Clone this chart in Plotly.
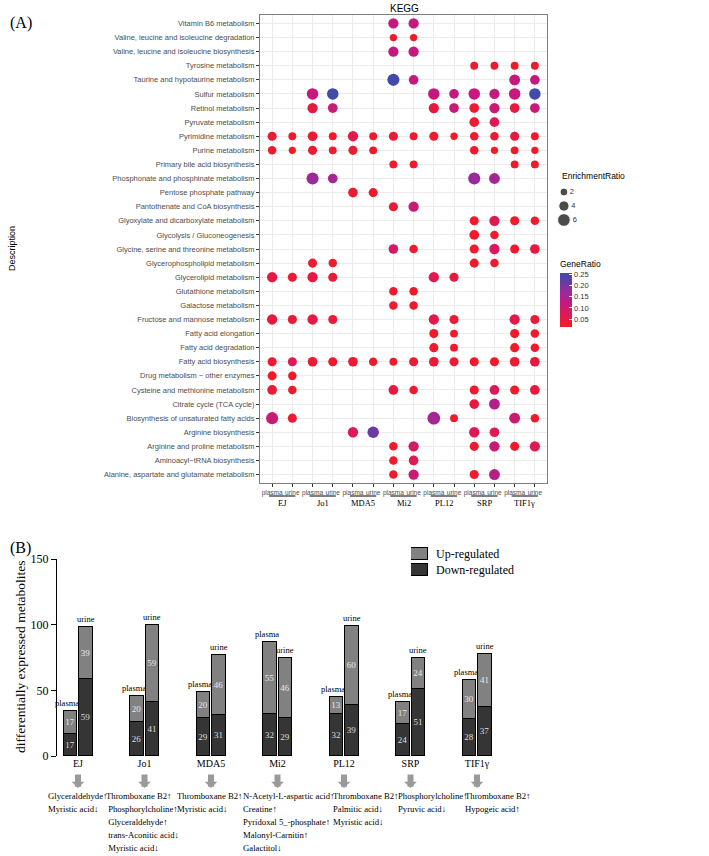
import plotly.graph_objects as go

# ---------------- Panel A data ----------------
pathways = [
    "Vitamin B6 metabolism",
    "Valine, leucine and isoleucine degradation",
    "Valine, leucine and isoleucine biosynthesis",
    "Tyrosine metabolism",
    "Taurine and hypotaurine metabolism",
    "Sulfur metabolism",
    "Retinol metabolism",
    "Pyruvate metabolism",
    "Pyrimidine metabolism",
    "Purine metabolism",
    "Primary bile acid biosynthesis",
    "Phosphonate and phosphinate metabolism",
    "Pentose phosphate pathway",
    "Pantothenate and CoA biosynthesis",
    "Glyoxylate and dicarboxylate metabolism",
    "Glycolysis / Gluconeogenesis",
    "Glycine, serine and threonine metabolism",
    "Glycerophospholipid metabolism",
    "Glycerolipid metabolism",
    "Glutathione metabolism",
    "Galactose metabolism",
    "Fructose and mannose metabolism",
    "Fatty acid elongation",
    "Fatty acid degradation",
    "Fatty acid biosynthesis",
    "Drug metabolism \u2212 other enzymes",
    "Cysteine and methionine metabolism",
    "Citrate cycle (TCA cycle)",
    "Biosynthesis of unsaturated fatty acids",
    "Arginine biosynthesis",
    "Arginine and proline metabolism",
    "Aminoacyl\u2212tRNA biosynthesis",
    "Alanine, aspartate and glutamate metabolism",
]
groups = ["EJ", "Jo1", "MDA5", "Mi2", "PL12", "SRP", "TIF1\u03b3"]
samples = ["plasma", "urine"]
columns = [f"{g} {s}" for g in groups for s in samples]

N = None
# columns: EJp EJu Jo1p Jo1u MDA5p MDA5u Mi2p Mi2u PL12p PL12u SRPp SRPu TIFp TIFu
enrichment_ratio = [
    [N, N, N, N, N, N, 4, 4, N, N, N, N, N, N],
    [N, N, N, N, N, N, 1.5, 1.5, N, N, N, N, N, N],
    [N, N, N, N, N, N, 4, 4, N, N, N, N, N, N],
    [N, N, N, N, N, N, N, N, N, N, 2, 2, 2, 2],
    [N, N, N, N, N, N, 5.5, 3.5, N, N, N, N, 4.5, 3.5],
    [N, N, 5, 5, N, N, N, N, 5, 3.5, 5, 4, 5, 5],
    [N, N, 4, 3.5, N, N, N, N, 4, 3.5, 3.5, 4, 3.5, 3.5],
    [N, N, N, N, N, N, N, N, N, N, 3.5, 3.5, N, N],
    [3, 2, 3.5, 2, 4, 2, 3, 2, 3, 1.5, 2.5, 2.5, 3, 2],
    [2.5, 1.5, 3, 2, 3, 2, N, N, N, N, 2.5, 1.5, 2, 1.5],
    [N, N, N, N, N, N, 2, 2, N, N, N, N, 2, 2],
    [N, N, 5.5, 3.5, N, N, N, N, N, N, 5.5, 4.5, N, N],
    [N, N, N, N, 3.5, 3, N, N, N, N, N, N, N, N],
    [N, N, N, N, N, N, 3, 4, N, N, N, N, N, N],
    [N, N, N, N, N, N, N, N, N, N, 3, 4, 3, 2.5],
    [N, N, N, N, N, N, N, N, N, N, 3.5, 2.5, N, N],
    [N, N, N, N, N, N, 3.5, 2.5, N, N, 3, 4, 3, 3.5],
    [N, N, 3, 2.5, N, N, N, N, N, N, 3, 2.5, N, N],
    [4, 3, 4, 3, N, N, N, N, 4, 3, N, N, N, N],
    [N, N, N, N, N, N, 2.5, 2.5, N, N, N, N, N, N],
    [N, N, N, N, N, N, 2.5, 2.5, N, N, N, N, N, N],
    [4, 3, 4, 3, N, N, N, N, 4, 3, N, N, 4, 3],
    [N, N, N, N, N, N, N, N, 3, 2, N, N, 3, 2.5],
    [N, N, N, N, N, N, N, N, 3, 2, N, N, 3, 2.5],
    [3, 3, 3.5, 3, 3.5, 2.5, 2, 3, 3.5, 3, 3, 3, 3.5, 3.5],
    [3, 2.5, N, N, N, N, N, N, N, N, N, N, N, N],
    [3.5, 2.5, N, N, N, N, 3.5, 2.5, N, N, 3, 3.5, 3, 3.5],
    [N, N, N, N, N, N, N, N, N, N, 3.5, 4.5, N, N],
    [5.5, 3, N, N, N, N, N, N, 6, 2, N, N, 4.5, 2.5],
    [N, N, N, N, 4, 5, N, N, N, N, 4, 3.5, N, N],
    [N, N, N, N, N, N, 2.5, 4, N, N, 3, 4, 3, 4],
    [N, N, N, N, N, N, 2.5, 3.5, N, N, N, N, N, N],
    [N, N, N, N, N, N, 2.5, 4, N, N, 3, 4.5, N, N],
]
gene_ratio = [
    [N, N, N, N, N, N, .12, .12, N, N, N, N, N, N],
    [N, N, N, N, N, N, .03, .03, N, N, N, N, N, N],
    [N, N, N, N, N, N, .12, .12, N, N, N, N, N, N],
    [N, N, N, N, N, N, N, N, N, N, .03, .03, .03, .03],
    [N, N, N, N, N, N, .25, .12, N, N, N, N, .12, .12],
    [N, N, .12, .25, N, N, N, N, .12, .12, .12, .12, .12, .25],
    [N, N, .05, .11, N, N, N, N, .05, .11, .04, .11, .05, .11],
    [N, N, N, N, N, N, N, N, N, N, .04, .07, N, N],
    [.04, .03, .04, .03, .06, .03, .04, .03, .03, .02, .03, .04, .05, .03],
    [.03, .02, .04, .03, .04, .03, N, N, N, N, .03, .02, .03, .02],
    [N, N, N, N, N, N, .03, .03, N, N, N, N, .03, .03],
    [N, N, .17, .16, N, N, N, N, N, N, .17, .16, N, N],
    [N, N, N, N, .04, .03, N, N, N, N, N, N, N, N],
    [N, N, N, N, N, N, .04, .11, N, N, N, N, N, N],
    [N, N, N, N, N, N, N, N, N, N, .03, .07, .03, .03],
    [N, N, N, N, N, N, N, N, N, N, .03, .03, N, N],
    [N, N, N, N, N, N, .09, .03, N, N, .03, .08, .03, .05],
    [N, N, .03, .03, N, N, N, N, N, N, .03, .03, N, N],
    [.05, .04, .05, .04, N, N, N, N, .06, .05, N, N, N, N],
    [N, N, N, N, N, N, .03, .03, N, N, N, N, N, N],
    [N, N, N, N, N, N, .03, .03, N, N, N, N, N, N],
    [.05, .04, .05, .04, N, N, N, N, .06, .04, N, N, .06, .04],
    [N, N, N, N, N, N, N, N, .03, .03, N, N, .03, .03],
    [N, N, N, N, N, N, N, N, .03, .03, N, N, .03, .03],
    [.04, .07, .04, .03, .04, .03, .03, .04, .04, .04, .03, .03, .04, .05],
    [.03, .03, N, N, N, N, N, N, N, N, N, N, N, N],
    [.04, .03, N, N, N, N, .05, .03, N, N, .03, .08, .03, .05],
    [N, N, N, N, N, N, N, N, N, N, .05, .14, N, N],
    [.11, .04, N, N, N, N, N, N, .16, .03, N, N, .10, .03],
    [N, N, N, N, .07, .21, N, N, N, N, .07, .07, N, N],
    [N, N, N, N, N, N, .03, .09, N, N, .03, .11, .03, .07],
    [N, N, N, N, N, N, .03, .07, N, N, N, N, N, N],
    [N, N, N, N, N, N, .03, .11, N, N, .03, .14, N, N],
]
size_breaks = [2, 4, 6]
generatio_ticks = [0.05, 0.10, 0.15, 0.20, 0.25]

# ---------------- Panel B data ----------------
up_plasma = [17, 20, 20, 55, 13, 17, 30]
down_plasma = [17, 26, 29, 32, 32, 24, 28]
up_urine = [39, 59, 46, 46, 60, 24, 41]
down_urine = [59, 41, 31, 29, 39, 51, 37]
regulation_names = ["Up-regulated", "Down-regulated"]
regulation_colors = ["#818181", "#353535"]
metabolite_notes = [
    ["Glyceraldehyde\u2191", "Myristic acid\u2193"],
    ["Thromboxane B2\u2191", " Phosphorylcholine\u2191", " Glyceraldehyde\u2191",
     " trans-Aconitic acid\u2193", " Myristic acid\u2193"],
    ["Thromboxane B2\u2191", "Myristic acid\u2193"],
    ["N-Acetyl-L-aspartic acid\u2191", "Creatine\u2191", "Pyridoxal 5_-phosphate\u2191",
     "Malonyl-Carnitin\u2191", "Galactitol\u2193"],
    ["Thromboxane B2\u2191", "Palmitic acid\u2193", "Myristic acid\u2193"],
    ["Phosphorylcholine\u2191", "Pyruvic acid\u2193"],
    ["Thromboxane B2\u2191", "Hypogeic acid\u2191"],
]

W, H = 709, 856
SANS = "Liberation Sans, Arial, sans-serif"
SERIF = "Liberation Serif, Times New Roman, serif"


def px_x(p):
    return p / W


def px_y(p):
    return 1 - p / H


def dot_size(r):
    return 5.5 + 1.2 * r


colorscale = [[0, "#F51C1C"], [0.19, "#E21A4C"], [0.44, "#C41A7E"],
              [0.65, "#9A2A9C"], [0.82, "#6A3AA4"], [1, "#3C4EA7"]]

fig = go.Figure()

xs, ys, sz, cl = [], [], [], []
for r, pw in enumerate(pathways):
    for c, col in enumerate(columns):
        er = enrichment_ratio[r][c]
        if er is None:
            continue
        xs.append(col)
        ys.append(pw)
        sz.append(dot_size(er))
        cl.append(gene_ratio[r][c])

fig.add_trace(go.Scatter(
    x=xs, y=ys, mode="markers", xaxis="x", yaxis="y", showlegend=False,
    hoverinfo="skip",
    marker=dict(size=sz, color=cl, colorscale=colorscale, cmin=0.015, cmax=0.256,
                opacity=1, line=dict(width=0), showscale=True,
                colorbar=dict(x=px_x(560), xanchor="left", xpad=0, ypad=0,
                              y=px_y(327), yanchor="bottom", len=69 / H, lenmode="fraction",
                              thickness=12, outlinewidth=0,
                              tickvals=generatio_ticks,
                              ticktext=[f"{v:.2f}" for v in generatio_ticks],
                              ticks="inside", ticklen=3, tickcolor="white",
                              tickfont=dict(family=SANS, size=7.5, color="#333"),
                              title=dict(text="GeneRatio", side="top",
                                         font=dict(family=SANS, size=8.5, color="black")))),
))

# size legend
fig.add_trace(go.Scatter(
    x=[0.18] * len(size_breaks), y=[2.5, 1.5, 0.5], mode="markers+text",
    text=[str(v) for v in size_breaks], textposition="middle right",
    textfont=dict(family=SANS, size=7.5, color="#333"),
    marker=dict(size=[dot_size(v) for v in size_breaks], color="black"),
    xaxis="x3", yaxis="y3", showlegend=False, hoverinfo="skip",
))

# bars
off = 0.1165
bx = [i - off for i in range(len(groups))] + [i + off for i in range(len(groups))]
down_vals = down_plasma + down_urine
up_vals = up_plasma + up_urine
fig.add_trace(go.Bar(
    x=bx, y=down_vals, width=0.203, name="Down-regulated", xaxis="x2", yaxis="y2",
    marker=dict(color=regulation_colors[1], line=dict(color="black", width=1)),
    text=[str(v) for v in down_vals], textposition="inside", insidetextanchor="middle",
    textangle=0, constraintext="none", showlegend=False,
    textfont=dict(family=SERIF, size=9, color="#DDDDDD"), hoverinfo="skip",
))
fig.add_trace(go.Bar(
    x=bx, y=up_vals, width=0.203, name="Up-regulated", xaxis="x2", yaxis="y2",
    marker=dict(color=regulation_colors[0], line=dict(color="black", width=1)),
    text=[str(v) for v in up_vals], textposition="inside", insidetextanchor="middle",
    textangle=0, constraintext="none", showlegend=False,
    textfont=dict(family=SERIF, size=9, color="#E8E8E8"), hoverinfo="skip",
))

# legend keys for the bars (drawn on a small hidden axis)
fig.add_trace(go.Bar(
    x=[1, 1], y=[1, 0], orientation="h", width=0.7, xaxis="x4", yaxis="y4",
    marker=dict(color=regulation_colors, line=dict(color="black", width=1)),
    showlegend=False, hoverinfo="skip",
))

annotations = []
shapes = []

annotations += [
    dict(text="(A)", x=px_x(8), y=px_y(23), xref="paper", yref="paper", xanchor="left",
         yanchor="middle", showarrow=False, font=dict(family=SERIF, size=16, color="black")),
    dict(text="(B)", x=px_x(8), y=px_y(548), xref="paper", yref="paper", xanchor="left",
         yanchor="middle", showarrow=False, font=dict(family=SERIF, size=16, color="black")),
    dict(text="KEGG", x=px_x(404), y=px_y(8), xref="paper", yref="paper", xanchor="center",
         yanchor="middle", showarrow=False, font=dict(family=SANS, size=10, color="black")),
    dict(text="Description", x=px_x(12), y=px_y(249), xref="paper", yref="paper",
         textangle=-90, xanchor="center", yanchor="middle", showarrow=False,
         font=dict(family=SANS, size=9, color="black")),
    dict(text="EnrichmentRatio", x=px_x(560), y=px_y(176), xref="paper", yref="paper",
         xanchor="left", yanchor="middle", showarrow=False,
         font=dict(family=SANS, size=8.5, color="black")),
    dict(text="differentially expressed metabolites", x=px_x(20), y=px_y(657),
         xref="paper", yref="paper", textangle=-90, xanchor="center", yanchor="middle",
         showarrow=False, font=dict(family=SERIF, size=13.5, color="black")),
]
for k, name in enumerate(regulation_names):
    annotations.append(dict(text=name, x=px_x(434), y=px_y(554 + 16 * k), xref="paper",
                            yref="paper", xanchor="left", yanchor="middle", showarrow=False,
                            font=dict(family=SERIF, size=12, color="black")))

for g, name in enumerate(groups):
    shapes.append(dict(type="line", xref="x", yref="paper", x0=2 * g - 0.15, x1=2 * g + 1.15,
                       y0=px_y(496), y1=px_y(496), line=dict(color="black", width=1)))
    annotations.append(dict(text=name, x=2 * g + 0.5, y=px_y(503), xref="x", yref="paper",
                            xanchor="center", yanchor="middle", showarrow=False,
                            font=dict(family=SERIF, size=8.5, color="black")))

note_shift = [-32, -41, -36, -37, -13, -15, -14]
for i in range(len(groups)):
    annotations.append(dict(text="plasma", x=i - off, y=up_plasma[i] + down_plasma[i],
                            xref="x2", yref="y2", xanchor="center", yanchor="bottom", yshift=1,
                            xshift=-3, showarrow=False,
                            font=dict(family=SERIF, size=8.5, color="black")))
    annotations.append(dict(text="urine", x=i + off, y=up_urine[i] + down_urine[i],
                            xref="x2", yref="y2", xanchor="center", yanchor="bottom", yshift=1,
                            showarrow=False, font=dict(family=SERIF, size=8.5, color="black")))
    annotations.append(dict(text="", x=i, y=px_y(788), xref="x2", yref="paper",
                            showarrow=True, ax=0, ay=-15, axref="pixel", ayref="pixel",
                            arrowhead=1, arrowwidth=6, arrowsize=0.35, arrowcolor="#9A9A9A"))
    for k, line in enumerate(metabolite_notes[i]):
        annotations.append(dict(text=line, x=i, xshift=note_shift[i], y=px_y(796 + 13 * k),
                                xref="x2", yref="paper", xanchor="left", yanchor="middle",
                                showarrow=False,
                                font=dict(family=SERIF, size=8.7, color="black")))

fig.update_layout(
    width=W, height=H, margin=dict(l=0, r=0, t=0, b=0, autoexpand=False),
    paper_bgcolor="white", plot_bgcolor="white",
    barmode="stack", bargap=0,
    showlegend=False,
    xaxis=dict(domain=[px_x(260), px_x(547)], anchor="y", type="category", automargin=False,
               categoryorder="array", categoryarray=columns, tickvals=columns,
               ticktext=[s for _ in groups for s in samples], range=[-0.6, 13.6],
               tickangle=0,
               showgrid=True, gridcolor="#EBEBEB", gridwidth=1, zeroline=False,
               showline=True, mirror=True, linecolor="#7F7F7F", linewidth=1,
               ticks="outside", ticklen=3, tickcolor="#333", tickwidth=0.6,
               tickfont=dict(family=SANS, size=6.5, color="#4D4D4D")),
    yaxis=dict(domain=[px_y(483), px_y(15)], anchor="x", type="category", automargin=False,
               categoryorder="array", categoryarray=pathways, range=[32.6, -0.6],
               showgrid=True, gridcolor="#EBEBEB", gridwidth=1, zeroline=False,
               showline=True, mirror=True, linecolor="#7F7F7F", linewidth=1,
               ticks="outside", ticklen=3, tickcolor="#333", tickwidth=0.6,
               tickfont=dict(family=SANS, size=7.5, color="#4D4D4D")),
    xaxis2=dict(domain=[px_x(57), px_x(522.5)], anchor="y2", range=[-0.316, 6.684],
                automargin=False, tickangle=0,
                tickvals=list(range(len(groups))), ticktext=groups, showline=False,
                ticks="", showgrid=False, zeroline=False,
                tickfont=dict(family=SERIF, size=10, color="black")),
    yaxis2=dict(domain=[px_y(756), px_y(559)], anchor="x2", range=[0, 150], automargin=False,
                tickvals=[0, 50, 100, 150], showline=True, linecolor="black", linewidth=1,
                ticks="outside", ticklen=5, tickcolor="black", showgrid=False,
                zeroline=False, tickfont=dict(family=SERIF, size=12, color="black")),
    xaxis3=dict(domain=[px_x(556), px_x(600)], anchor="y3", range=[0, 1], visible=False,
                automargin=False),
    yaxis3=dict(domain=[px_y(227), px_y(185)], anchor="x3", range=[0, 3], visible=False,
                automargin=False),
    xaxis4=dict(domain=[px_x(411), px_x(428)], anchor="y4", range=[0, 1], visible=False,
                automargin=False),
    yaxis4=dict(domain=[px_y(578), px_y(546)], anchor="x4", range=[-0.5, 1.5],
                visible=False, automargin=False),
    annotations=annotations, shapes=shapes,
)

fig.write_html("out.html", config={"displayModeBar": False},
               post_script="document.body.style.margin='0';")
